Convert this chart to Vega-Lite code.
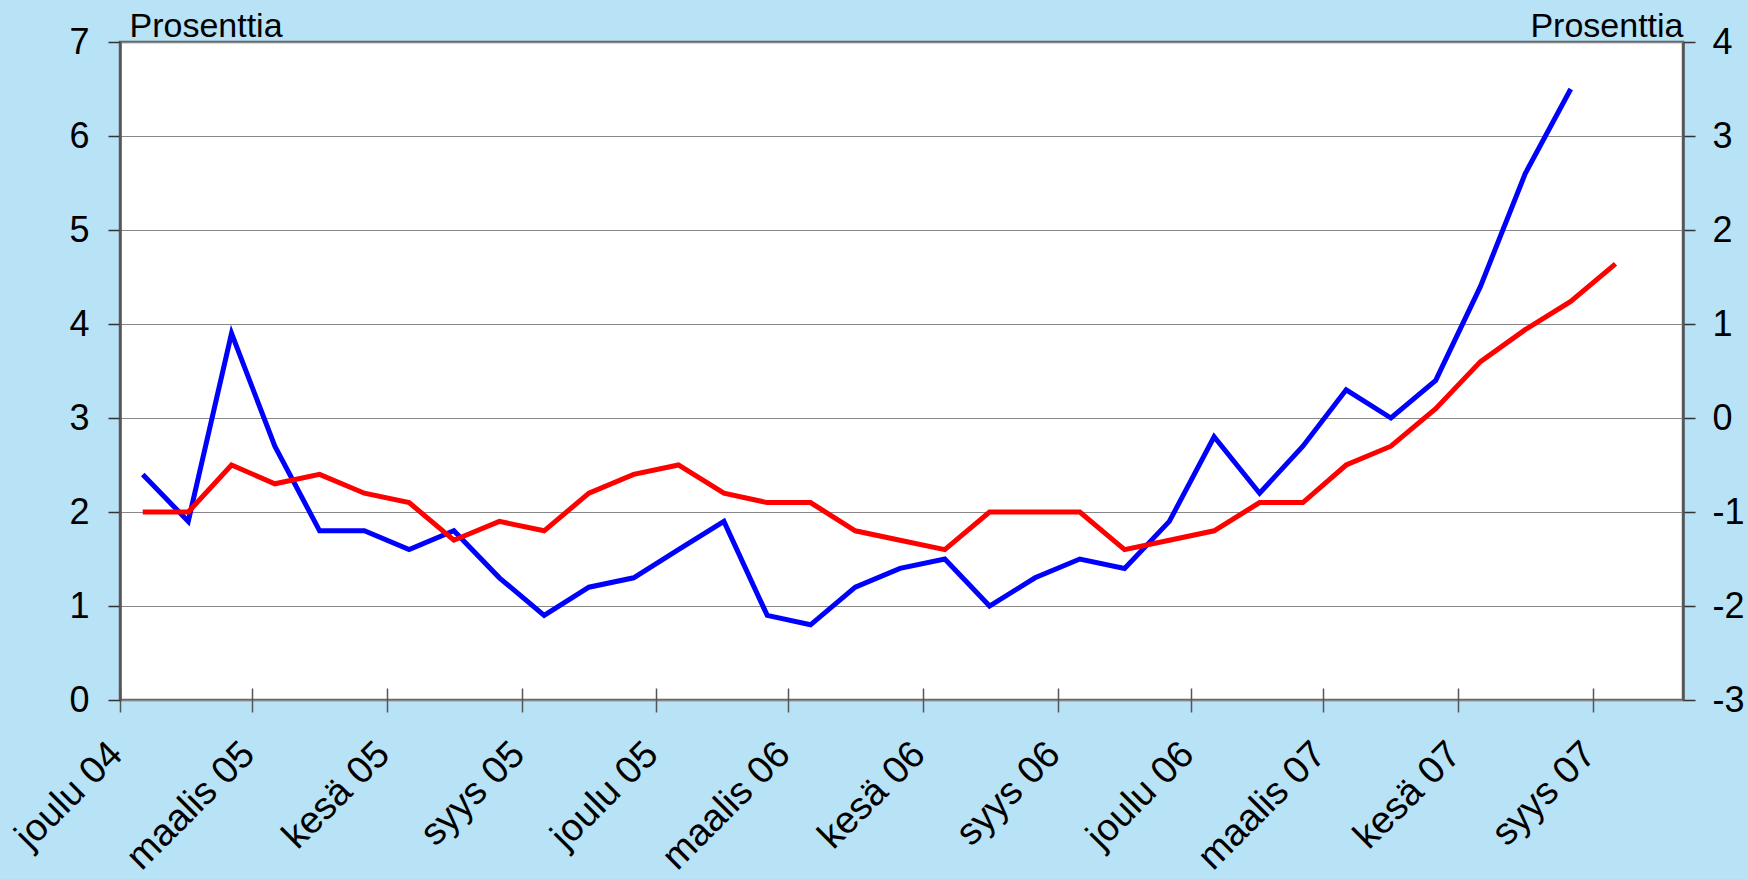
{
  "$schema": "https://vega.github.io/schema/vega-lite/v6.json",
  "width": 1563,
  "height": 658,
  "autosize": {"type": "none"},
  "padding": {"left": 120, "top": 42, "right": 65, "bottom": 179},
  "background": "#b8e2f6",
  "config": {
    "font": "Liberation Sans",
    "view": {"fill": "white", "stroke": "#666666", "strokeWidth": 2.5}
  },
  "data": {
    "values": [
      {"month": "2004-12", "series": "sininen", "value": 2.4},
      {"month": "2005-01", "series": "sininen", "value": 1.9},
      {"month": "2005-02", "series": "sininen", "value": 3.9},
      {"month": "2005-03", "series": "sininen", "value": 2.7},
      {"month": "2005-04", "series": "sininen", "value": 1.8},
      {"month": "2005-05", "series": "sininen", "value": 1.8},
      {"month": "2005-06", "series": "sininen", "value": 1.6},
      {"month": "2005-07", "series": "sininen", "value": 1.8},
      {"month": "2005-08", "series": "sininen", "value": 1.3},
      {"month": "2005-09", "series": "sininen", "value": 0.9},
      {"month": "2005-10", "series": "sininen", "value": 1.2},
      {"month": "2005-11", "series": "sininen", "value": 1.3},
      {"month": "2005-12", "series": "sininen", "value": 1.6},
      {"month": "2006-01", "series": "sininen", "value": 1.9},
      {"month": "2006-02", "series": "sininen", "value": 0.9},
      {"month": "2006-03", "series": "sininen", "value": 0.8},
      {"month": "2006-04", "series": "sininen", "value": 1.2},
      {"month": "2006-05", "series": "sininen", "value": 1.4},
      {"month": "2006-06", "series": "sininen", "value": 1.5},
      {"month": "2006-07", "series": "sininen", "value": 1.0},
      {"month": "2006-08", "series": "sininen", "value": 1.3},
      {"month": "2006-09", "series": "sininen", "value": 1.5},
      {"month": "2006-10", "series": "sininen", "value": 1.4},
      {"month": "2006-11", "series": "sininen", "value": 1.9},
      {"month": "2006-12", "series": "sininen", "value": 2.8},
      {"month": "2007-01", "series": "sininen", "value": 2.2},
      {"month": "2007-02", "series": "sininen", "value": 2.7},
      {"month": "2007-03", "series": "sininen", "value": 3.3},
      {"month": "2007-04", "series": "sininen", "value": 3.0},
      {"month": "2007-05", "series": "sininen", "value": 3.4},
      {"month": "2007-06", "series": "sininen", "value": 4.4},
      {"month": "2007-07", "series": "sininen", "value": 5.6},
      {"month": "2007-08", "series": "sininen", "value": 6.5},
      {"month": "2004-12", "series": "punainen", "value": -1.0},
      {"month": "2005-01", "series": "punainen", "value": -1.0},
      {"month": "2005-02", "series": "punainen", "value": -0.5},
      {"month": "2005-03", "series": "punainen", "value": -0.7},
      {"month": "2005-04", "series": "punainen", "value": -0.6},
      {"month": "2005-05", "series": "punainen", "value": -0.8},
      {"month": "2005-06", "series": "punainen", "value": -0.9},
      {"month": "2005-07", "series": "punainen", "value": -1.3},
      {"month": "2005-08", "series": "punainen", "value": -1.1},
      {"month": "2005-09", "series": "punainen", "value": -1.2},
      {"month": "2005-10", "series": "punainen", "value": -0.8},
      {"month": "2005-11", "series": "punainen", "value": -0.6},
      {"month": "2005-12", "series": "punainen", "value": -0.5},
      {"month": "2006-01", "series": "punainen", "value": -0.8},
      {"month": "2006-02", "series": "punainen", "value": -0.9},
      {"month": "2006-03", "series": "punainen", "value": -0.9},
      {"month": "2006-04", "series": "punainen", "value": -1.2},
      {"month": "2006-05", "series": "punainen", "value": -1.3},
      {"month": "2006-06", "series": "punainen", "value": -1.4},
      {"month": "2006-07", "series": "punainen", "value": -1.0},
      {"month": "2006-08", "series": "punainen", "value": -1.0},
      {"month": "2006-09", "series": "punainen", "value": -1.0},
      {"month": "2006-10", "series": "punainen", "value": -1.4},
      {"month": "2006-11", "series": "punainen", "value": -1.3},
      {"month": "2006-12", "series": "punainen", "value": -1.2},
      {"month": "2007-01", "series": "punainen", "value": -0.9},
      {"month": "2007-02", "series": "punainen", "value": -0.9},
      {"month": "2007-03", "series": "punainen", "value": -0.5},
      {"month": "2007-04", "series": "punainen", "value": -0.3},
      {"month": "2007-05", "series": "punainen", "value": 0.1},
      {"month": "2007-06", "series": "punainen", "value": 0.6},
      {"month": "2007-07", "series": "punainen", "value": 0.94},
      {"month": "2007-08", "series": "punainen", "value": 1.24},
      {"month": "2007-09", "series": "punainen", "value": 1.64}
    ]
  },
  "encoding": {
    "x": {
      "field": "month",
      "type": "temporal",
      "timeUnit": "utcyearmonth",
      "bandPosition": 0.5,
      "title": null,
      "scale": {
        "type": "utc",
        "domain": [
          {"year": 2004, "month": 12, "date": 1, "utc": true},
          {"year": 2007, "month": 11, "date": 1, "utc": true}
        ]
      },
      "axis": {
        "values": [
          {"year": 2004, "month": 12, "date": 1, "utc": true},
          {"year": 2005, "month": 3, "date": 1, "utc": true},
          {"year": 2005, "month": 6, "date": 1, "utc": true},
          {"year": 2005, "month": 9, "date": 1, "utc": true},
          {"year": 2005, "month": 12, "date": 1, "utc": true},
          {"year": 2006, "month": 3, "date": 1, "utc": true},
          {"year": 2006, "month": 6, "date": 1, "utc": true},
          {"year": 2006, "month": 9, "date": 1, "utc": true},
          {"year": 2006, "month": 12, "date": 1, "utc": true},
          {"year": 2007, "month": 3, "date": 1, "utc": true},
          {"year": 2007, "month": 6, "date": 1, "utc": true},
          {"year": 2007, "month": 9, "date": 1, "utc": true}
        ],
        "labelExpr": "(utcmonth(datum.value) == 11 ? 'joulu' : utcmonth(datum.value) == 2 ? 'maalis' : utcmonth(datum.value) == 5 ? 'kesä' : 'syys') + ' ' + utcFormat(datum.value, '%y')",
        "offset": -12,
        "labelAngle": -45,
        "labelAlign": "right",
        "labelBaseline": "alphabetic",
        "labelPadding": 44,
        "labelOffset": 4,
        "labelFontSize": 38,
        "labelColor": "black",
        "labelFlush": false,
        "labelOverlap": false,
        "labelBound": false,
        "tickSize": 24,
        "tickColor": "#555555",
        "tickWidth": 1.5,
        "domain": false,
        "grid": false
      }
    }
  },
  "layer": [
    {
      "transform": [{"filter": "datum.series == 'sininen'"}],
      "mark": {"type": "line", "color": "#0000ff", "strokeWidth": 5, "strokeJoin": "miter"},
      "encoding": {
        "y": {
          "field": "value",
          "type": "quantitative",
          "scale": {"domain": [0, 7], "nice": false, "zero": false},
          "axis": {
            "values": [0, 1, 2, 3, 4, 5, 6, 7],
            "title": "Prosenttia",
            "titleAngle": 0,
            "titleAlign": "left",
            "titleBaseline": "alphabetic",
            "titleX": 9,
            "titleY": -6,
            "titleFontSize": 34,
            "titleFontWeight": "normal",
            "titleColor": "black",
            "labelFontSize": 36,
            "labelColor": "black",
            "labelPadding": 19,
            "tickSize": 12,
            "tickColor": "#333333",
            "tickWidth": 1.5,
            "grid": true,
            "gridColor": "#888888",
            "gridWidth": 1,
            "domainColor": "#555555",
            "domainWidth": 2.5
          }
        }
      }
    },
    {
      "transform": [{"filter": "datum.series == 'punainen'"}],
      "mark": {"type": "line", "color": "#ff0000", "strokeWidth": 5, "strokeJoin": "miter"},
      "encoding": {
        "y": {
          "field": "value",
          "type": "quantitative",
          "scale": {"domain": [-3, 4], "nice": false, "zero": false},
          "axis": {
            "orient": "right",
            "values": [-3, -2, -1, 0, 1, 2, 3, 4],
            "labelExpr": "'' + datum.value",
            "title": "Prosenttia",
            "titleAngle": 0,
            "titleAlign": "right",
            "titleBaseline": "alphabetic",
            "titleX": 0,
            "titleY": -6,
            "titleFontSize": 34,
            "titleFontWeight": "normal",
            "titleColor": "black",
            "labelFontSize": 36,
            "labelColor": "black",
            "labelAlign": "left",
            "labelPadding": 17,
            "tickSize": 12,
            "tickColor": "#333333",
            "tickWidth": 1.5,
            "grid": false,
            "domainColor": "#555555",
            "domainWidth": 2.5
          }
        }
      }
    }
  ],
  "resolve": {"scale": {"y": "independent"}}
}
